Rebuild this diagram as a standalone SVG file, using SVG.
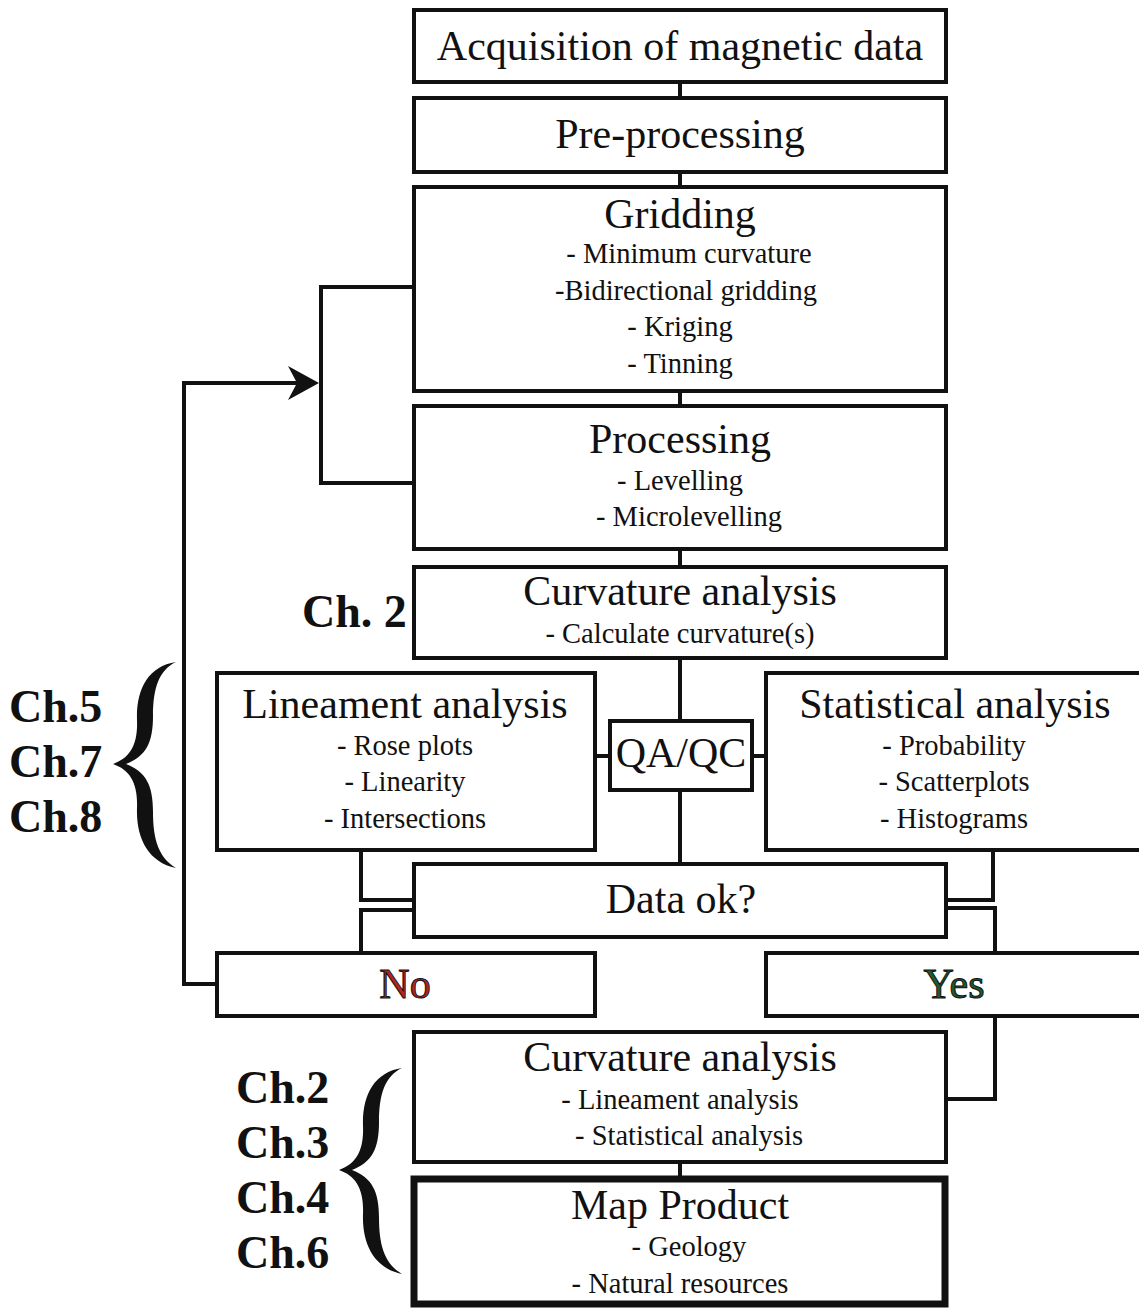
<svg xmlns="http://www.w3.org/2000/svg" width="1139" height="1309" viewBox="0 0 1139 1309">
<style>
.box{fill:#fff;stroke:#111;stroke-width:4}
.thick{fill:#fff;stroke:#111;stroke-width:7}
.ln{fill:none;stroke:#111;stroke-width:4}
text{font-family:"Liberation Serif","Times New Roman",serif;fill:#111;text-anchor:middle}
.t{font-size:42px}
.s{font-size:28.5px}
.ch{font-size:46px;font-weight:bold;text-anchor:start}
</style>
<defs>
<path id="brace" d="M176,662 C148,666 136,690 137,720 C138,745 130,758 113,764 C130,770 138,783 137,808 C136,838 148,862 176,868 C159,858 153,840 153,812 C153,785 146,772 126,764 C146,756 153,743 153,716 C153,688 159,670 176,662 Z" fill="#111"/>
</defs>
<rect width="1139" height="1309" fill="#fff"/>
<g id="connectors">
<path class="ln" d="M680,82V97 M680,171V186 M680,391V405 M680,549V566 M680,658V720 M680,790V863 M680,1162V1177"/>
<path class="ln" d="M413,287H321V483H413"/>
<path class="ln" d="M216,984H184V383H300"/>
<path d="M319,383 L288,366 L297,383 L288,400 Z" fill="#111"/>
<path class="ln" d="M595,756H609 M752,756H765"/>
<path class="ln" d="M361,850V900H413 M413,910H361V952"/>
<path class="ln" d="M993,850V900H947 M947,908H995V952"/>
<path class="ln" d="M995,1016V1099H947"/>
</g>
<g id="acq"><rect class="box" x="414" y="10" width="532" height="72"/><text class="t" x="680" y="60">Acquisition of magnetic data</text></g>
<g id="pre"><rect class="box" x="414" y="98" width="532" height="74"/><text class="t" x="680" y="148">Pre-processing</text></g>
<g id="grid"><rect class="box" x="414" y="187" width="532" height="204"/><text class="t" x="680" y="228">Gridding</text><text class="s" x="689" y="263">- Minimum curvature</text><text class="s" x="686" y="300">-Bidirectional gridding</text><text class="s" x="680" y="336">- Kriging</text><text class="s" x="680" y="373">- Tinning</text></g>
<g id="proc"><rect class="box" x="414" y="406" width="532" height="143"/><text class="t" x="680" y="453">Processing</text><text class="s" x="680" y="490">- Levelling</text><text class="s" x="689" y="526">- Microlevelling</text></g>
<g id="curv1"><rect class="box" x="414" y="567" width="532" height="91"/><text class="t" x="680" y="605">Curvature analysis</text><text class="s" x="680" y="643">- Calculate curvature(s)</text></g>
<g id="lin"><rect class="box" x="217" y="673" width="378" height="177"/><text class="t" x="405" y="718">Lineament analysis</text><text class="s" x="405" y="755">- Rose plots</text><text class="s" x="405" y="791">- Linearity</text><text class="s" x="405" y="828">- Intersections</text></g>
<g id="qaqc"><rect class="box" x="610" y="721" width="142" height="69"/><text class="t" x="681" y="767">QA/QC</text></g>
<g id="stat"><rect class="box" x="766" y="673" width="380" height="177"/><text class="t" x="955" y="718">Statistical analysis</text><text class="s" x="954" y="755">- Probability</text><text class="s" x="954" y="791">- Scatterplots</text><text class="s" x="954" y="828">- Histograms</text></g>
<g id="dataok"><rect class="box" x="414" y="864" width="532" height="73"/><text class="t" x="681" y="913">Data ok?</text></g>
<g id="no"><rect class="box" x="217" y="953" width="378" height="63"/><text class="t" x="405" y="998" style="fill:#b3261e;stroke:#111;stroke-width:1">No</text></g>
<g id="yes"><rect class="box" x="766" y="953" width="380" height="63"/><text class="t" x="954" y="998" style="fill:#1e5a30;stroke:#111;stroke-width:1">Yes</text></g>
<g id="curv2"><rect class="box" x="414" y="1032" width="532" height="130"/><text class="t" x="680" y="1071">Curvature analysis</text><text class="s" x="680" y="1109">- Lineament analysis</text><text class="s" x="689" y="1145">- Statistical analysis</text></g>
<g id="map"><rect class="thick" x="414" y="1179" width="531" height="125"/><text class="t" x="680" y="1219">Map Product</text><text class="s" x="689" y="1256">- Geology</text><text class="s" x="680" y="1293">- Natural resources</text></g>
<g id="labels">
<text class="ch" x="302" y="627">Ch. 2</text>
<text class="ch" x="9" y="722">Ch.5</text>
<text class="ch" x="9" y="777">Ch.7</text>
<text class="ch" x="9" y="832">Ch.8</text>
<use href="#brace"/>
<text class="ch" x="236" y="1103">Ch.2</text>
<text class="ch" x="236" y="1158">Ch.3</text>
<text class="ch" x="236" y="1213">Ch.4</text>
<text class="ch" x="236" y="1268">Ch.6</text>
<use href="#brace" transform="translate(226,406)"/>
</g>
</svg>
